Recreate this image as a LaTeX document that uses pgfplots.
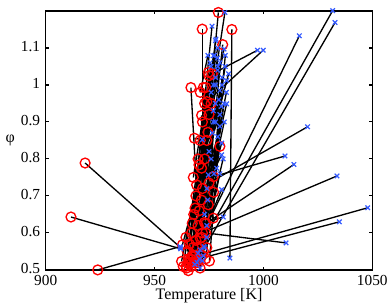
\documentclass[border=0pt]{standalone}
\usepackage{fontspec}
\setmainfont{Liberation Serif}
\usepackage{pgfplots}
\usepackage{pgfplotstable}
\pgfplotsset{compat=1.18}
\definecolor{mblue}{rgb}{0.2,0.35,1}
\pgfplotstableread{
x1 y1 x2 y2
918.1 0.789 961.8 0.561
911.6 0.643 962.0 0.557
923.9 0.500 961.7 0.563
968.0 0.535 1031.8 1.201
969.5 0.525 1032.9 1.169
971.0 0.585 1016.5 1.133
976.5 1.030 997.3 1.094
974.0 0.955 999.9 1.094
975.0 0.735 1020.3 0.887
977.0 0.752 1009.9 0.808
973.5 0.625 1014.0 0.785
972.0 0.600 1033.8 0.754
967.5 0.535 1047.9 0.668
969.0 0.528 1034.9 0.630
973.5 0.600 1010.4 0.573
985.5 1.150 984.6 0.532
979.3 1.196 968.5 0.515
971.9 1.151 971.9 0.525
981.3 1.109 970.5 0.530
964.5 0.510 982.3 1.196
965.5 0.520 976.4 1.159
963.2 0.509 978.2 1.124
964.7 0.505 977.1 1.079
965.5 0.498 978.9 1.073
962.4 0.523 981.9 1.097
962.8 0.568 984.0 1.030
964.4 0.588 983.1 1.012
967.4 0.538 980.0 0.985
970.9 0.505 981.9 0.949
967.8 0.561 983.1 0.949
971.5 0.538 980.7 0.942
975.2 0.524 980.0 0.888
966.0 0.515 980.8 0.843
968.6 0.667 980.8 0.811
967.3 0.626 978.5 0.775
971.6 0.588 980.8 0.717
972.9 0.628 981.6 0.643
977.0 0.640 974.4 0.689
966.7 0.993 970.9 0.554
972.4 0.993 972.4 0.538
973.5 0.993 972.7 0.563
974.7 1.034 973.9 0.588
975.0 1.025 970.0 0.545
971.6 0.918 970.9 0.505
968.3 0.856 971.9 0.852
974.5 0.872 969.5 0.520
980.0 0.834 973.0 0.560
970.4 0.784 977.3 0.760
971.6 0.775 974.7 0.757
969.3 0.730 979.0 1.040
977.1 0.710 975.5 1.060
971.5 0.689 977.0 1.000
974.7 0.676 978.0 0.950
967.8 0.750 976.0 1.050
965.0 0.550 976.0 0.980
966.0 0.570 978.0 1.020
967.0 0.600 979.0 1.050
968.0 0.650 977.0 0.930
969.0 0.700 978.0 0.900
970.0 0.800 976.5 0.870
971.0 0.850 979.0 1.100
972.0 0.900 978.0 1.000
973.0 0.950 977.5 1.080
966.0 0.520 975.0 0.820
967.0 0.510 974.0 0.720
968.5 0.520 976.0 0.800
970.0 0.620 974.0 0.620
965.5 0.530 973.0 0.650
969.0 0.580 977.0 0.900
970.5 0.660 979.5 0.960
972.0 0.720 979.0 0.860
973.0 0.800 980.0 0.920
974.0 0.850 981.0 1.000
975.0 0.920 980.0 1.060
976.0 0.950 978.0 1.120
971.0 0.980 974.5 1.080
966.5 0.530 982.5 1.050
968.0 0.540 983.0 0.980
969.5 0.560 982.0 0.900
970.0 0.520 981.5 0.800
972.5 0.550 980.0 0.760
973.5 0.530 981.0 1.020
974.0 0.560 982.5 1.080
}\segs
\begin{document}
\fontsize{12}{14}\selectfont
\begin{tikzpicture}
\begin{axis}[
  scale only axis, width=245pt, height=194.25pt,
  xmin=900, xmax=1050, ymin=0.5, ymax=1.2,
  xtick={900,950,1000,1050},
  ytick={0.5,0.6,0.7,0.8,0.9,1,1.1},
  tick align=inside, tick pos=both, major tick length=2.5pt,
  axis line style={line width=1.1pt},
  every tick/.style={black, line width=0.8pt},
  /pgf/number format/assume math mode=true,
  /pgf/number format/1000 sep={},
  ticklabel style={font=\fontsize{11.5}{13}\selectfont},
  xticklabel style={yshift=0pt},
  yticklabel style={yshift=1pt},
  xlabel={Temperature [K]},
  xlabel style={at={(axis description cs:0.5,-0.072)}, anchor=north, inner sep=0pt},
  ylabel={φ},
  ylabel style={rotate=-90, at={(axis description cs:-0.109,0.5)}, anchor=center},
  label style={font=\fontsize{12}{14}\selectfont},
  clip=false,
]
\addplot[only marks, mark=o, red, mark size=3.7pt, mark options={line width=1pt}] table[x=x1, y=y1]{\segs};
\addplot[black, line width=1pt, quiver={u=\thisrow{x2}-\thisrow{x1}, v=\thisrow{y2}-\thisrow{y1}}] table[x=x1, y=y1]{\segs};
\addplot[only marks, mark=x, mblue, mark size=2.4pt, mark options={line width=0.9pt}] table[x=x2, y=y2]{\segs};
\end{axis}
\pgfresetboundingbox
\path ([shift={(-34.3pt,-25.5pt)}]current axis.south west) rectangle ([shift={(13.3pt,8.25pt)}]current axis.north east);
\end{tikzpicture}
\end{document}
